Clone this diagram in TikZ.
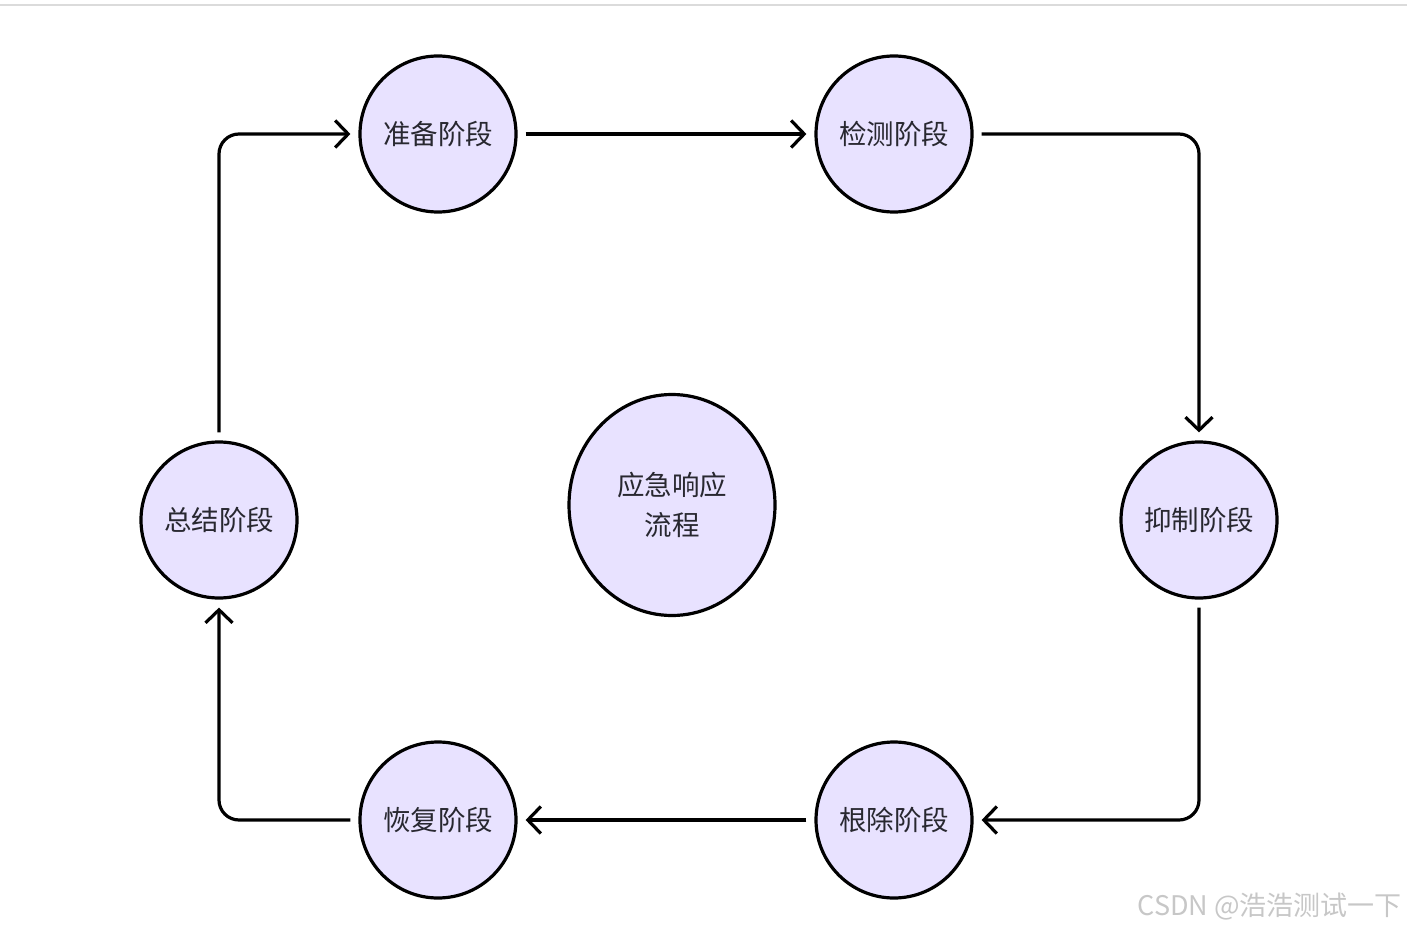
\documentclass[tikz,border=0pt]{standalone}
\usepackage{fontspec}
\setmainfont{Noto Sans CJK SC}
\usetikzlibrary{arrows.meta,shapes.geometric}

\definecolor{phasefill}{RGB}{232,226,255}
\definecolor{phasetext}{RGB}{40,40,48}

\begin{document}
\begin{tikzpicture}[
  x=1pt, y=-1pt,
  phase/.style ={draw,circle,line width=3.2pt,fill=phasefill,text=phasetext,
                 minimum size=156pt,inner sep=0,font=\fontsize{27.5}{30}\selectfont},
  hub/.style   ={phase,ellipse,minimum width=206pt,minimum height=221pt,align=center,
                 font=\fontsize{27.5}{40}\selectfont},
  flow/.style  ={draw,line width=3.2pt,rounded corners=20pt,shorten <=8pt,shorten >=8pt,
                 -{Straight Barb[length=13pt,width=27pt]}},
  wmark/.style ={text=black!22,font=\fontsize{27}{30}\selectfont,anchor=east,inner sep=0},
]
\useasboundingbox (0,0) rectangle (1407,933);

% top rule of the page
\fill[black!14] (0,4) rectangle (1407,6);

% ------------------------------------------------------------ phases
\node[phase] (zb) at (438,134) {准备阶段};
\node[phase] (jc) at (894,134) {检测阶段};
\node[phase] (yz) at (1199,520) {抑制阶段};
\node[phase] (gc) at (894,820) {根除阶段};
\node[phase] (hf) at (438,820) {恢复阶段};
\node[phase] (zj) at (219,520) {总结阶段};
\node[hub]   (yj) at (672,505) {应急响应\\流程};

% ------------------------------------------------------------ cycle
\draw[flow] (zj.north) |- (zb.west);
\draw[flow] (zb.east) -- (jc.west);
\draw[flow] (jc.east) -| (yz.north);
\draw[flow] (yz.south) |- (gc.east);
\draw[flow] (gc.west) -- (hf.east);
\draw[flow] (hf.west) -| (zj.south);

% watermark
\node[wmark] (wm) at (1402,907) {CSDN @浩浩测试一下};

\end{tikzpicture}
\end{document}
